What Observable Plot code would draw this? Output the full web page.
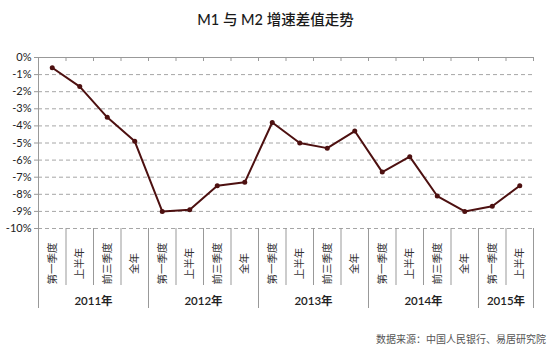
<!DOCTYPE html>
<html>
<head>
<meta charset="utf-8">
<script src="https://cdn.jsdelivr.net/npm/d3@7"></script>
<script src="https://cdn.jsdelivr.net/npm/@observablehq/plot@0.6"></script>
<style>
  html, body { margin: 0; padding: 0; background: #fff; }
  #wrap { position: relative; width: 551px; height: 355px; font-family: Lato, "Noto Sans CJK SC", sans-serif; }
  #title { position: absolute; left: 0; width: 551px; top: 8px; text-align: center; font-size: 14.5px; font-weight: 500; color: #1a1a1a; }
  #source { position: absolute; right: 5px; top: 331px; font-size: 10px; color: #555; }
  #chart { position: absolute; left: 0; top: 0; }
</style>
</head>
<body>
<div id="wrap">
  <div id="chart"></div>
  <div id="title">M1 与 M2 增速差值走势</div>
  <div id="source">数据来源：中国人民银行、易居研究院</div>
</div>
<script>
const periods = ["第一季度","上半年","前三季度","全年",
                 "第一季度","上半年","前三季度","全年",
                 "第一季度","上半年","前三季度","全年",
                 "第一季度","上半年","前三季度","全年",
                 "第一季度","上半年"];
const values = [-0.6, -1.7, -3.5, -4.9,
                -9.0, -8.9, -7.5, -7.3,
                -3.8, -5.0, -5.3, -4.3,
                -6.7, -5.8, -8.1, -9.0,
                -8.7, -7.5];
const years = ["2011年","2012年","2013年","2014年","2015年"];
const yearSizes = [4, 4, 4, 4, 2];
const yTicks = [0, -1, -2, -3, -4, -5, -6, -7, -8, -9, -10];

const W = 551, H = 355, mT = 57, mB = 127, mL = 38, mR = 18;
const pxPerUnit = (H - mT - mB) / 10;
const data = periods.map((p, i) => ({i, p, v: values[i]}));
const n = periods.length;

// year boundaries
const yearStarts = [];
let acc = 0;
yearSizes.forEach(s => { yearStarts.push(acc); acc += s; });
const longB = new Set([...yearStarts, n].map(k => k - 0.5));
const boundaries = d3.range(n + 1).map(k => ({x: k - 0.5, long: longB.has(k - 0.5)}));
const yearLabels = years.map((y, j) => ({y, x: yearStarts[j] + yearSizes[j] / 2 - 0.5}));

const color = "#4d1010";
const grid = "#a6a6a6";

const chart = Plot.plot({
  width: W, height: H,
  marginTop: mT, marginBottom: mB, marginLeft: mL, marginRight: mR,
  style: {fontFamily: 'Lato, "Noto Sans CJK SC", sans-serif', fontSize: "11px", color: "#222", overflow: "visible", background: "transparent"},
  x: {domain: [-0.5, n - 0.5], axis: null},
  y: {domain: [-10, 0], axis: null},
  marks: [
    Plot.ruleY(yTicks.filter(d => d < 0), {stroke: grid, strokeWidth: 1, strokeDasharray: "4,3"}),
    Plot.ruleY([0], {stroke: "#999"}),
    Plot.ruleX([-0.5], {y1: 0, y2: -10, stroke: "#999"}),
    Plot.ruleX(boundaries, {x: "x", y1: 0, y2: -4 / pxPerUnit, stroke: "#999"}),
    Plot.ruleX(boundaries, {x: "x", y1: -10, y2: d => -10 - (d.long ? 80 : 57) / pxPerUnit, stroke: "#999"}),
    Plot.axisY(yTicks, {tickFormat: d => `${d}%`, tickSize: 4, tickPadding: 3, label: null, stroke: "#999", fill: "#222", fontSize: 11}),
    Plot.line(data, {x: "i", y: "v", stroke: color, strokeWidth: 2}),
    Plot.dot(data, {x: "i", y: "v", r: 2.5, fill: color, stroke: "none"}),
    Plot.text(data, {x: "i", y: -10, text: "p", rotate: -90, dy: 35, fontSize: 10.5, fill: "#333"}),
    Plot.text(yearLabels, {x: "x", y: -10, text: "y", dy: 73, fontSize: 11.5, fontWeight: 600, fill: "#222"})
  ]
});
document.getElementById("chart").appendChild(chart);
</script>
</body>
</html>
